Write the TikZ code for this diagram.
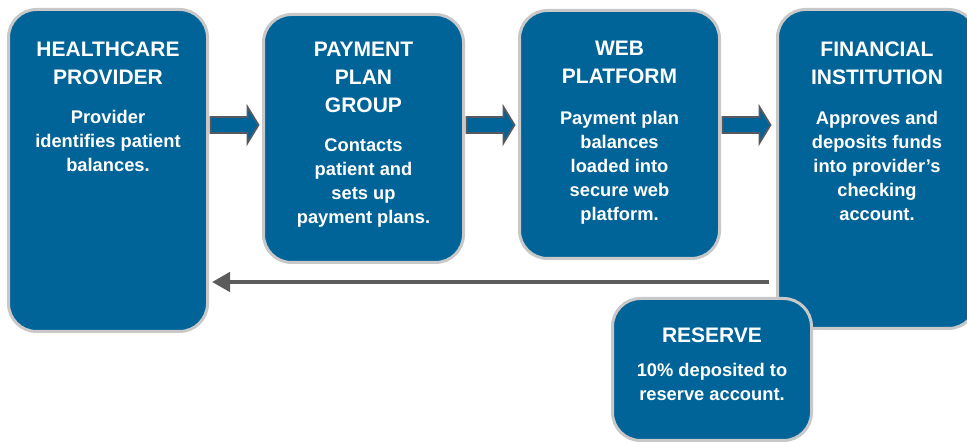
\documentclass[tikz,border=0pt]{standalone}
\usepackage{fontspec}
\setmainfont{Liberation Sans}
\usetikzlibrary{arrows.meta,calc}
\definecolor{boxblue}{RGB}{0,100,152}
\definecolor{boxrim}{RGB}{200,200,200}
\definecolor{arrowrim}{RGB}{85,90,96}
\definecolor{backgray}{RGB}{92,92,92}
\tikzset{
  stagebox/.style={draw=boxrim, line width=3pt, fill=boxblue, rounded corners=28pt,
    inner sep=0pt, rectangle},
  titletext/.style={text=white, anchor=north, align=center, inner sep=0pt,
    font=\fontsize{21}{28}\selectfont\bfseries},
  bodytext/.style={text=white, anchor=north, align=center, inner sep=0pt,
    font=\fontsize{18.3}{24}\selectfont\bfseries},
  blockarrow/.style={draw=arrowrim, line width=1.8pt, fill=boxblue, line join=miter},
  backarrow/.style={draw=backgray, line width=4.5pt,
    -{Triangle[length=18pt,width=19pt]}}
}
\begin{document}
\begin{tikzpicture}[x=1pt,y=-1pt]
\useasboundingbox (0,0) rectangle (967,443);
\clip (0,0) rectangle (967,443);
\fill[white] (0,0) rectangle (967,443);
% boxes
\node[stagebox, minimum width=199pt, minimum height=322pt] (b1) at (108,170.5) {};
\node[stagebox, minimum width=200pt, minimum height=248pt] (b2) at (363.5,138.5) {};
\node[stagebox, minimum width=200pt, minimum height=248pt] (b3) at (619.5,134.5) {};
\node[stagebox, minimum width=199pt, minimum height=319pt] (b4) at (877,169) {};
% back arrow
\coordinate (bs) at ($(b4.west |- 0,282)+(-7,0)$);
\coordinate (be) at ($(b1.east |- 0,282)+(3,0)$);
\draw[backarrow] (bs) -- (be);
\node[stagebox, minimum width=199pt, minimum height=142pt] (b5) at (712,369.5) {};
% forward block arrows
\coordinate (a12) at ($(b1.east |- 0,125)+(1.5,0)$);
\coordinate (a23) at ($(b2.east |- 0,125)+(1.5,0)$);
\coordinate (a34) at ($(b3.east |- 0,125)+(1.5,0)$);
\foreach \a in {a12,a23,a34}{
  \draw[blockarrow] (\a) ++(0,-8) -- ++(37,0) -- ++(0,-10) -- ++(11,18)
    -- ++(-11,18) -- ++(0,-10) -- ++(-37,0) -- cycle;
}
% texts
\node[titletext] (t1) at (108,42) {HEALTHCARE\\PROVIDER};
\node[bodytext] (d1) at (108,109.7) {Provider\\identifies patient\\balances.};
\node[titletext] (t2) at (363.5,42) {PAYMENT\\PLAN\\GROUP};
\node[bodytext] (d2) at (363.5,138.7) {Contacts\\patient and\\sets up\\payment plans.};
\node[titletext] (t3) at (619.5,41) {WEB\\PLATFORM};
\node[bodytext] (d3) at (619.5,110.7) {Payment plan\\balances\\loaded into\\secure web\\platform.};
\node[titletext] (t4) at (877,42) {FINANCIAL\\INSTITUTION};
\node[bodytext] (d4) at (877,110.7) {Approves and\\deposits funds\\into provider’s\\checking\\account.};
\node[titletext] (t5) at (712,328) {RESERVE};
\node[bodytext] (d5) at (712,362.7) {10\% deposited to\\reserve account.};
\end{tikzpicture}
\end{document}
